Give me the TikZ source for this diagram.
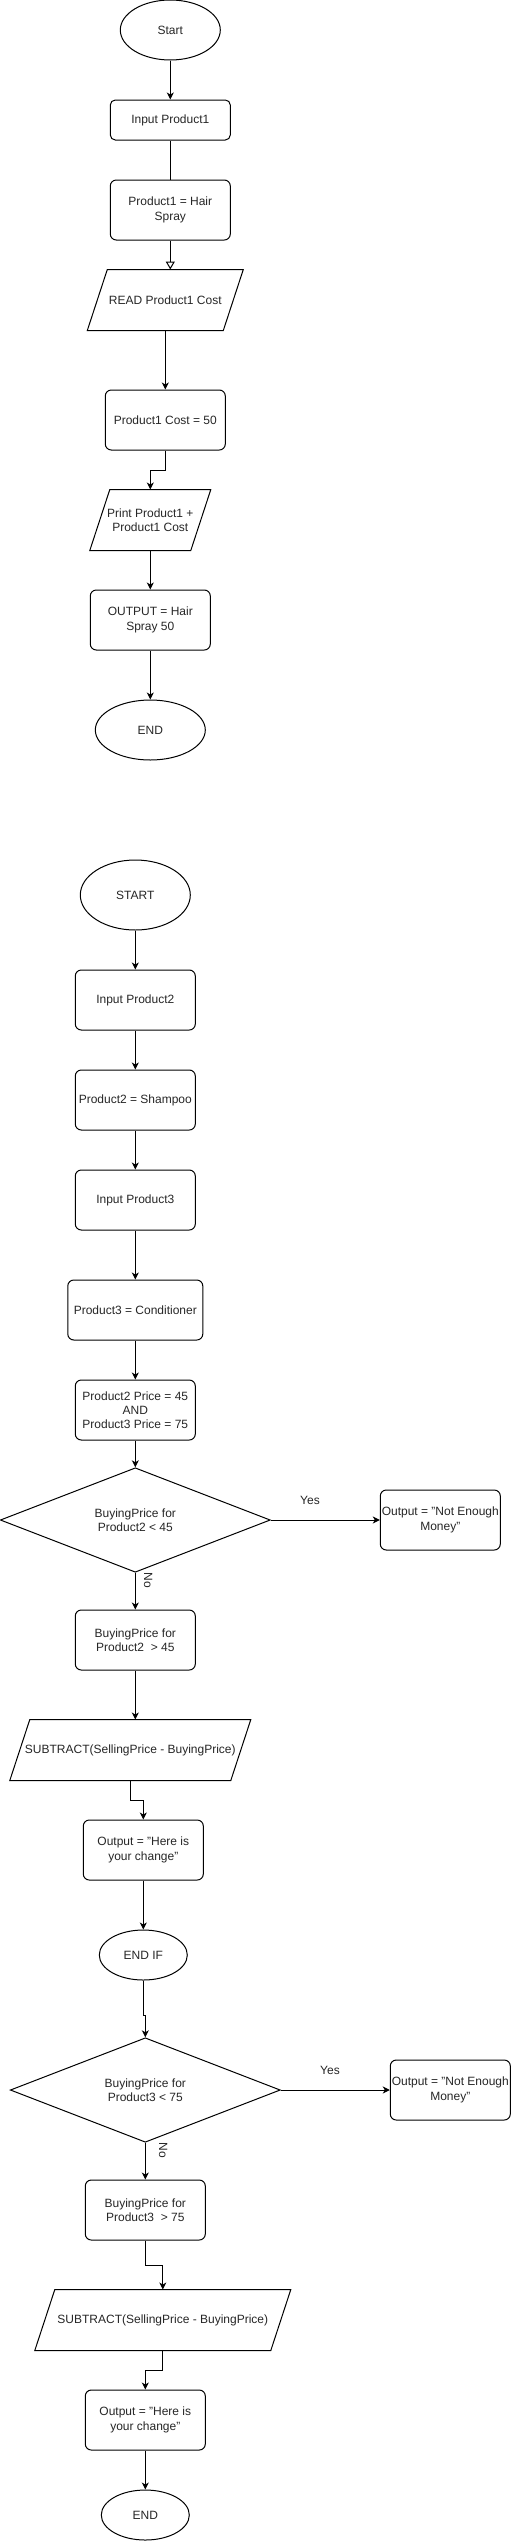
\documentclass[tikz,border=0pt]{standalone}
\usepackage{fontspec}
\setmainfont{Liberation Sans}
\usetikzlibrary{shapes.geometric,arrows.meta}
\tikzset{
  base/.style={line width=1pt, font=\fontsize{12}{14.3}\selectfont, align=center, inner sep=0pt, text=black!85},
  proc/.style={base, draw, rectangle, rounded corners=6pt, minimum width=120pt, minimum height=60pt},
  term/.style={base, draw, ellipse},
  iobox/.style={base, rectangle, minimum height=60pt},
  dec/.style={base, draw, diamond, minimum width=270pt, minimum height=80pt},
  arr/.style={line width=1pt, -{Stealth[length=7pt,width=7pt,inset=2pt]}},
  openarr/.style={line width=1pt, -{Triangle[open,length=8pt,width=9pt]}},
  plain/.style={line width=1pt},
  lbl/.style={font=\fontsize{12}{14}\selectfont, text=black!85, inner sep=0pt},
  slantbox/.style={line width=1pt}
}
\newcommand{\slanted}[1]{\draw[slantbox] ([xshift=20pt]#1.north west) -- (#1.north east) -- ([xshift=-20pt]#1.south east) -- (#1.south west) -- cycle;}
\begin{document}
\begin{tikzpicture}[x=1pt,y=-1pt]
\useasboundingbox (0,0) rectangle (511,2541);
% ---------- Part 1 ----------
\node[term, minimum width=100pt, minimum height=60pt] (s1) at (170.3,30) {Start};
\node[proc, minimum height=40pt, rounded corners=5pt] (in1) at (170.3,120) {Input Product1};
\node[proc] (p1) at (170.3,210) {Product1 = Hair\\Spray};
\node[iobox, minimum width=155pt] (rd1) at (165.3,300) {READ Product1 Cost};
\slanted{rd1}
\node[proc] (c1) at (165.3,420) {Product1 Cost = 50};
\node[iobox, minimum width=120pt] (pr1) at (150.3,520) {Print Product1 +\\Product1 Cost};
\slanted{pr1}
\node[proc] (o1) at (150.3,620) {OUTPUT = Hair\\Spray 50};
\node[term, minimum width=110pt, minimum height=60pt] (e1) at (150.3,730) {END};

\draw[arr] (s1.south) -- (in1.north);
\draw[plain] (in1.south) -- (p1.north);
\draw[openarr] (p1.south) -- (p1.south |- rd1.north);
\draw[arr] (rd1.south) -- (rd1.south |- c1.north);
\draw[arr] (c1.south) -- ++(0,20) -| (pr1.north);
\draw[arr] (pr1.south) -- (pr1.south |- o1.north);
\draw[arr] (o1.south) -- (o1.south |- e1.north);

% ---------- Part 2 ----------
\node[term, minimum width=110pt, minimum height=70pt] (s2) at (135.3,895) {START};
\node[proc] (in2) at (135.3,1000) {Input Product2};
\node[proc] (p2) at (135.3,1100) {Product2 = Shampoo};
\node[proc] (in3) at (135.3,1200) {Input Product3};
\node[proc, minimum width=135pt] (p3) at (135.3,1310) {Product3 = Conditioner};
\node[proc] (pp) at (135.3,1410) {Product2 Price = 45\\AND\\Product3 Price = 75};
\node[dec] (d1) at (135.3,1520) {BuyingPrice for\\Product2 < 45};
\node[proc] (ne1) at (440.3,1520) {Output = "Not Enough\\Money"};
\node[proc] (b2) at (135.3,1640) {BuyingPrice for\\Product2 \ > 45};
\node[iobox, minimum width=240pt] (sub1) at (130.3,1750) {SUBTRACT(SellingPrice - BuyingPrice)};
\slanted{sub1}
\node[proc] (o2) at (143.3,1850) {Output = "Here is\\your change"};
\node[term, minimum width=88pt, minimum height=50pt] (ei) at (143.3,1955) {END IF};
\node[dec] (d2) at (145.3,2090) {BuyingPrice for\\Product3 < 75};
\node[proc] (ne2) at (450.3,2090) {Output = "Not Enough\\Money"};
\node[proc] (b3) at (145.3,2210) {BuyingPrice for\\Product3 \ > 75};
\node[iobox, minimum width=255pt] (sub2) at (162.8,2320) {SUBTRACT(SellingPrice - BuyingPrice)};
\slanted{sub2}
\node[proc] (o3) at (145.3,2420) {Output = "Here is\\your change"};
\node[term, minimum width=88pt, minimum height=50pt] (e2) at (145.3,2515) {END};

\draw[arr] (s2.south) -- (s2.south |- in2.north);
\draw[arr] (in2.south) -- (in2.south |- p2.north);
\draw[arr] (p2.south) -- (p2.south |- in3.north);
\draw[arr] (in3.south) -- (in3.south |- p3.north);
\draw[arr] (p3.south) -- (p3.south |- pp.north);
\draw[arr] (pp.south) -- (pp.south |- d1.north);
\draw[arr] (d1.east) -- (ne1.west);
\node[lbl] (y1) at (310,1500) {Yes};
\draw[arr] (d1.south) -- (d1.south |- b2.north);
\node[lbl, rotate=-90] (n1) at (148.3,1580) {No};
\draw[arr] (b2.south) -- (b2.south |- sub1.north);
\draw[arr] (sub1.south) -- ++(0,20) -| (o2.north);
\draw[arr] (o2.south) -- (o2.south |- ei.north);
\draw[arr] (ei.south) -- ++(0,35) -| (d2.north);
\draw[arr] (d2.east) -- (ne2.west);
\node[lbl] (y2) at (330,2070) {Yes};
\draw[arr] (d2.south) -- (d2.south |- b3.north);
\node[lbl, rotate=-90] (n2) at (163.3,2150) {No};
\draw[arr] (b3.south) -- ++(0,25) -| (sub2.north);
\draw[arr] (sub2.south) -- ++(0,20) -| (o3.north);
\draw[arr] (o3.south) -- (o3.south |- e2.north);
\end{tikzpicture}
\end{document}
